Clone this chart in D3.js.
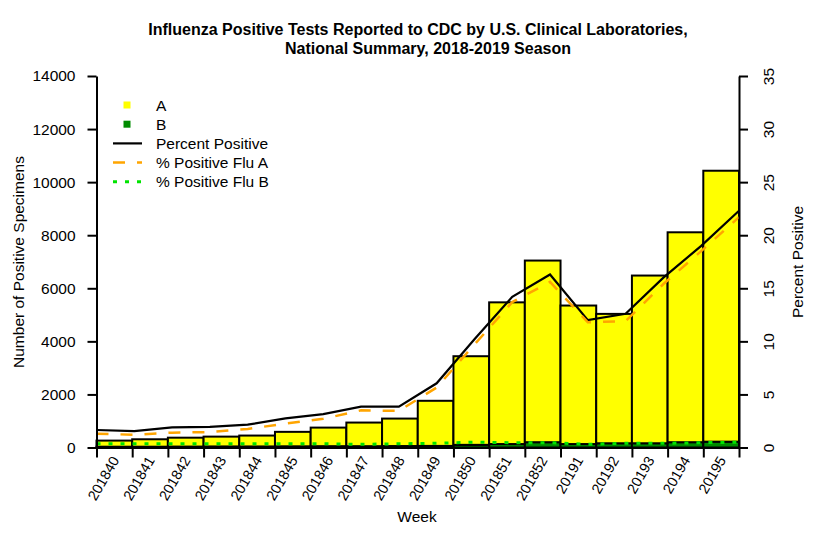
<!DOCTYPE html>
<html>
<head>
<meta charset="utf-8">
<script src="https://cdn.jsdelivr.net/npm/d3@7"></script>
<style>
body { margin: 0; background: #fff; }
text { font-family: "Liberation Sans", Arial, sans-serif; fill: #000; }
</style>
</head>
<body>
<svg id="chart" width="816" height="545"></svg>
<script>

// values
var weeks = ["201840","201841","201842","201843","201844","201845","201846","201847","201848",
             "201849","201850","201851","201852","20191","20192","20193","20194","20195"]
var fluA = [230,280,335,370,410,545,700,890,1035,1700,3340,5340,6845,5220,4875,6320,7910,10210]
var fluB = [30,30,35,40,40,45,50,50,55,60,100,130,200,130,160,160,200,220]
var pctTotal = [1.65,1.55,1.9,1.95,2.15,2.75,3.15,3.85,3.85,6.05,10.2,14.2,16.3,12.0,12.6,16.0,19.0,22.3]
var pctA = [1.3,1.2,1.4,1.45,1.75,2.25,2.7,3.5,3.45,5.65,9.7,13.7,15.6,11.8,11.9,15.4,18.5,21.7]
var pctB = [0.35,0.35,0.35,0.35,0.35,0.35,0.35,0.3,0.35,0.4,0.5,0.45,0.45,0.3,0.4,0.4,0.45,0.5]
var countTicks = d3.range(0, 14001, 2000)
var pctTicks = d3.range(0, 36, 5)

var svg = d3.select("#chart")
var plotLeft = 96.5, plotRight = 739, plotTop = 76, plotBottom = 447.5

var x = d3.scaleBand().domain(weeks).range([plotLeft, plotRight]).padding(0)
var xp = d3.scalePoint().domain(weeks).range([plotLeft, plotRight])
var xe = d3.scaleLinear().domain([0, weeks.length]).range([plotLeft, plotRight])
var y = d3.scaleLinear().domain([0, 14000]).range([plotBottom, plotTop])
var yr = d3.scaleLinear().domain([0, 35]).range([plotBottom, plotTop])

// stacked bars: B at the bottom, A on top
var bars = svg.append("g")
bars.selectAll("rect.b").data(weeks).enter().append("rect")
  .attr("x", function(d) { return x(d) })
  .attr("width", x.bandwidth())
  .attr("y", function(d, i) { return y(fluB[i]) })
  .attr("height", function(d, i) { return y(0) - y(fluB[i]) })
  .attr("fill", "#008B00").attr("stroke", "#000").attr("stroke-width", 2)
bars.selectAll("rect.a").data(weeks).enter().append("rect")
  .attr("x", function(d) { return x(d) })
  .attr("width", x.bandwidth())
  .attr("y", function(d, i) { return y(fluA[i] + fluB[i]) })
  .attr("height", function(d, i) { return y(fluB[i]) - y(fluA[i] + fluB[i]) })
  .attr("fill", "#FFFF00").attr("stroke", "#000").attr("stroke-width", 2)

function pctLine(vals) {
  return d3.line()
    .x(function(d, i) { return xp(weeks[i]) })
    .y(function(d) { return yr(d) })(vals)
}
svg.append("path").attr("d", pctLine(pctTotal))
  .attr("fill", "none").attr("stroke", "#000").attr("stroke-width", 2.2)
svg.append("path").attr("d", pctLine(pctA))
  .attr("fill", "none").attr("stroke", "#FFA500").attr("stroke-width", 2.5)
  .attr("stroke-dasharray", "12,12")
svg.append("path").attr("d", pctLine(pctB))
  .attr("fill", "none").attr("stroke", "#00E400").attr("stroke-width", 3)
  .attr("stroke-dasharray", "4,8")

// axes
var ga = svg.append("g").attr("transform", "translate(" + plotLeft + ",0)")
  .call(d3.axisLeft(y).tickValues(countTicks).tickSize(9).tickSizeOuter(0).tickPadding(12).tickFormat(d3.format("d")))
var gr = svg.append("g").attr("transform", "translate(" + plotRight + ",0)")
  .call(d3.axisRight(yr).tickValues(pctTicks).tickSize(9).tickSizeOuter(0).tickFormat(""))
var gb = svg.append("g").attr("transform", "translate(0," + plotBottom + ")")
  .call(d3.axisBottom(xe).tickValues(d3.range(weeks.length + 1)).tickSize(10).tickSizeOuter(0).tickFormat(""))
svg.selectAll(".domain, .tick line").attr("stroke", "#000").attr("stroke-width", 2)
ga.selectAll(".tick text").attr("font-size", "15.5px").attr("font-family", "Liberation Sans, Arial, sans-serif")

gr.selectAll(".tick").append("text")
  .attr("transform", "translate(29,0) rotate(-90)")
  .attr("text-anchor", "middle").attr("dominant-baseline", "central")
  .attr("font-size", "15.5px")
  .text(function(d) { return d })

svg.append("g").selectAll("text").data(weeks).enter().append("text")
  .attr("transform", function(d) { return "translate(" + (x(d) + x.bandwidth() / 2 + 1) + "," + (plotBottom + 10) + ") rotate(-60)" })
  .attr("text-anchor", "end").attr("dominant-baseline", "central")
  .attr("font-size", "14.4px")
  .text(function(d) { return d })

// titles
svg.append("text").attr("x", 418).attr("y", 35).attr("text-anchor", "middle")
  .attr("font-size", "16px").attr("font-weight", "bold")
  .text("Influenza Positive Tests Reported to CDC by U.S. Clinical Laboratories,")
svg.append("text").attr("x", 428).attr("y", 54).attr("text-anchor", "middle")
  .attr("font-size", "16px").attr("font-weight", "bold")
  .text("National Summary, 2018-2019 Season")
svg.append("text").attr("x", 417).attr("y", 522).attr("text-anchor", "middle")
  .attr("font-size", "15.5px").text("Week")
svg.append("text").attr("transform", "translate(24,262) rotate(-90)").attr("text-anchor", "middle")
  .attr("font-size", "15.5px").text("Number of Positive Specimens")
svg.append("text").attr("transform", "translate(803,262) rotate(-90)").attr("text-anchor", "middle")
  .attr("font-size", "15.5px").text("Percent Positive")

// legend
var legend = [
  { label: "A", kind: "box", color: "#FFFF00" },
  { label: "B", kind: "box", color: "#008B00" },
  { label: "Percent Positive", kind: "line", color: "#000", dash: null, w: 2.2 },
  { label: "% Positive Flu A", kind: "line", color: "#FFA500", dash: "12,12", w: 2.5 },
  { label: "% Positive Flu B", kind: "line", color: "#00E400", dash: "4,8", w: 3 }
]
var lg = svg.append("g").selectAll("g").data(legend).enter().append("g")
  .attr("transform", function(d, i) { return "translate(0," + (105 + i * 19.2) + ")" })
lg.filter(function(d) { return d.kind == "box" }).append("rect")
  .attr("x", 123.5).attr("y", -3.5).attr("width", 7).attr("height", 7)
  .attr("fill", function(d) { return d.color })
lg.filter(function(d) { return d.kind == "line" }).append("line")
  .attr("x1", 113).attr("x2", 142).attr("y1", 0).attr("y2", 0)
  .attr("stroke", function(d) { return d.color })
  .attr("stroke-width", function(d) { return d.w })
  .attr("stroke-dasharray", function(d) { return d.dash })
lg.append("text").attr("x", 156).attr("dominant-baseline", "central")
  .attr("font-size", "15.5px").text(function(d) { return d.label })

</script>
</body>
</html>
